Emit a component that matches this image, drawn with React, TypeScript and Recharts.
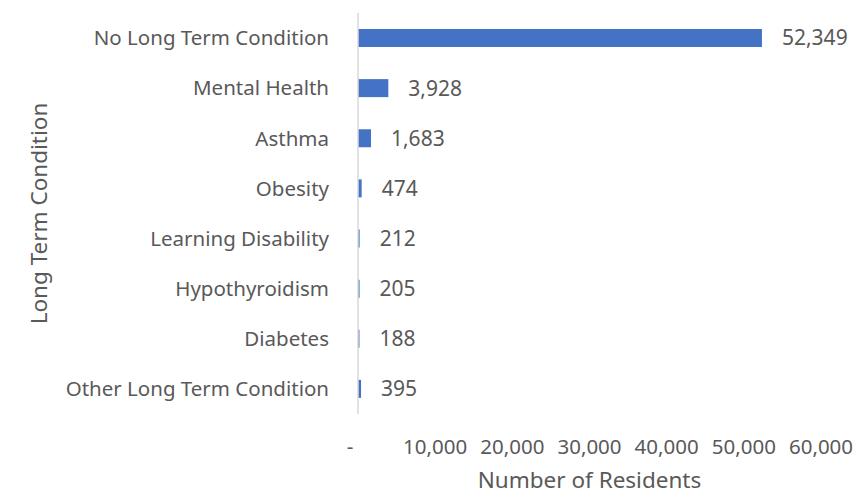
import { Bar, BarChart, LabelList, Label, XAxis, YAxis } from "recharts";

const conditions = [
  "No Long Term Condition",
  "Mental Health",
  "Asthma",
  "Obesity",
  "Learning Disability",
  "Hypothyroidism",
  "Diabetes",
  "Other Long Term Condition",
];
const residents = [52349, 3928, 1683, 474, 212, 205, 188, 395];
const xTicks = [0, 10000, 20000, 30000, 40000, 50000, 60000];

const data = conditions.map((name, i) => ({ name, value: residents[i] }));

const FONT = "'Noto Sans', sans-serif";
const TEXT = "#595959";

const fmt = (v: number) => (v === 0 ? "-" : v.toLocaleString("en-US"));

function XTick(props: any) {
  const { x, y, payload } = props;
  const isZero = payload.value === 0;
  return (
    <text
      x={isZero ? x - 8 : x}
      y={y}
      dy="0.71em"
      textAnchor="middle"
      fill={TEXT}
      fontSize={20.5}
      fontFamily={FONT}
    >
      {fmt(payload.value)}
    </text>
  );
}

export default function App() {
  return (
    <div style={{ position: "absolute", left: 0, top: 0, background: "#fff" }}>
      <BarChart
        width={856}
        height={495}
        data={data}
        layout="vertical"
        margin={{ top: 13, right: 35, left: 20, bottom: 21 }}
      >
        <XAxis
          type="number"
          domain={[0, 60000]}
          ticks={xTicks}
          axisLine={false}
          tickLine={false}
          tick={<XTick />}
          tickMargin={19}
          height={60}
        >
          <Label
            value="Number of Residents"
            position="insideBottom"
            offset={-14}
            fill={TEXT}
            fontSize={22.5}
            fontFamily={FONT}
          />
        </XAxis>
        <YAxis
          type="category"
          dataKey="name"
          width={338}
          axisLine={{ stroke: "#d9d9d9", strokeWidth: 1.5 }}
          tickLine={false}
          tickMargin={23}
          tick={{ fill: TEXT, fontSize: 20.5, fontFamily: FONT }}
        >
          <Label
            value="Long Term Condition"
            angle={-90}
            position="insideLeft"
            offset={19}
            fill={TEXT}
            fontSize={22.5}
            fontFamily={FONT}
            style={{ textAnchor: "middle" }}
          />
        </YAxis>
        <Bar dataKey="value" fill="#4472C4" barSize={18} isAnimationActive={false}>
          <LabelList
            dataKey="value"
            position="right"
            offset={20}
            formatter={(v: any) => fmt(Number(v))}
            fill={TEXT}
            fontSize={21}
            fontFamily={FONT}
          />
        </Bar>
      </BarChart>
    </div>
  );
}
